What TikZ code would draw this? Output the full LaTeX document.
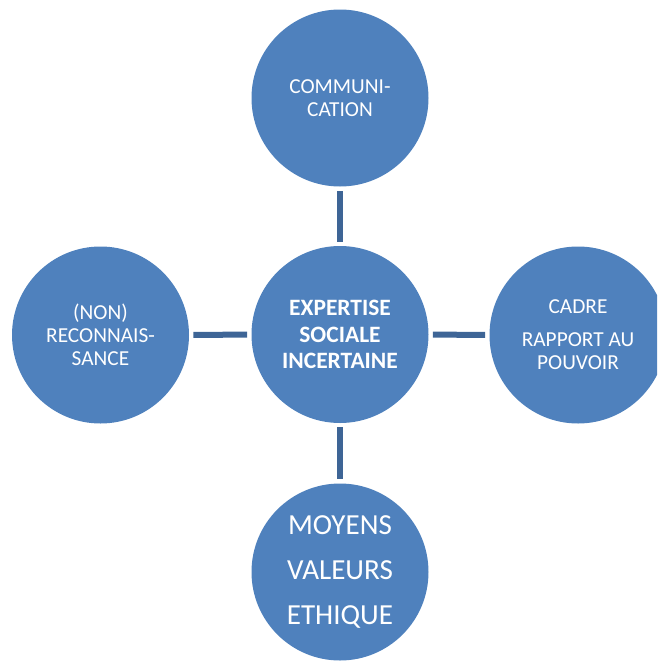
\documentclass[tikz,border=0pt]{standalone}
\usepackage{fontspec}
\setmainfont{Carlito}
\definecolor{bubblefill}{RGB}{79,129,189}
\definecolor{linkcol}{RGB}{62,101,150}
\tikzset{
  bubble/.style={circle, fill=bubblefill, text=white, minimum size=132.75pt,
    inner sep=0pt, align=center, font=\fontsize{16}{17.25}\selectfont},
  link/.style={draw=linkcol, line width=4.5pt, shorten <=3pt, shorten >=3pt}
}
\begin{document}
\begin{tikzpicture}[x=0.75pt,y=-0.75pt]
  \useasboundingbox (0,0) rectangle (657,664);
  \clip (0,0) rectangle (657,664);
  \draw
    (340,334.5) node[bubble, font=\bfseries\fontsize{17.6}{19.9}\selectfont] (expertise) {EXPERTISE\\SOCIALE\\INCERTAINE}
    (340,98) node[bubble] (comm) {COMMUNI-\\CATION}
    (578,335) node[bubble] (cadre) {CADRE\\[7.5pt]RAPPORT AU\\POUVOIR}
    (100.5,335) node[bubble] (reco) {(NON)\\RECONNAIS-\\SANCE}
    (340,572) node[bubble, font=\fontsize{21.8}{33.75}\selectfont] (moyens) {MOYENS\\VALEURS\\ETHIQUE};
  \begin{scope}[link]
    \draw (expertise) to (comm);
    \draw (expertise) to (cadre);
    \draw (expertise) to (reco);
    \draw (expertise) to (moyens);
  \end{scope}
\end{tikzpicture}
\end{document}
